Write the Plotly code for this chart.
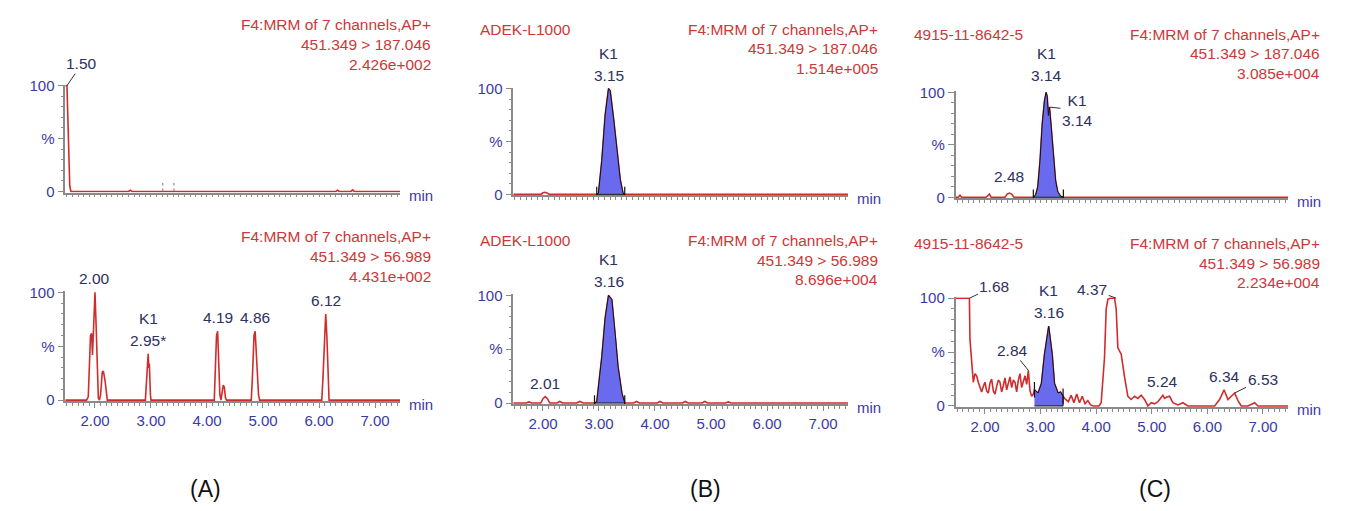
import numpy as np
import plotly.graph_objects as go

W, H = 1345, 511

# ---------------- data ----------------
x_ticks = [1.5, 2.0, 2.5, 3.0, 3.5, 4.0, 4.5, 5.0, 5.5, 6.0, 6.5, 7.0]
x_tick_labels = ["", "2.00", "", "3.00", "", "4.00", "", "5.00", "", "6.00", "", "7.00"]
y_ticks = [0, 50, 100]
y_tick_labels = ["0", "%", "100"]

channel_name = "F4:MRM of 7 channels,AP+"
transitions = ["451.349 > 187.046", "451.349 > 56.989"]
sample_names = ["", "ADEK-L1000", "4915-11-8642-5"]
max_intensity = [["2.426e+002", "4.431e+002"],
                 ["1.514e+005", "8.696e+004"],
                 ["3.085e+004", "2.234e+004"]]
panel_letters = ["(A)", "(B)", "(C)"]

# (A) blank, 451.349 > 187.046
a1_t = [1.47, 1.50, 1.51, 1.53, 1.55, 1.57, 2.60, 2.63, 2.66, 6.30, 6.33, 6.36, 6.57, 6.60, 6.63, 7.45]
a1_i = [100, 100, 80, 30, 5, 0, 0, 1.2, 0, 0, 1.2, 0, 0, 1.5, 0, 0]
a1_marks = [3.21, 3.41]
a1_labels = [("1.50", 1.50, 100)]

# (A) blank, 451.349 > 56.989
a2_t = [1.47, 1.85, 1.88, 1.90, 1.92, 1.94, 1.955, 1.97, 2.00, 2.02,
        2.04, 2.06, 2.08, 2.10, 2.13, 2.15, 2.18, 2.20, 2.22, 2.90,
        2.92, 2.94, 2.95, 2.96, 2.97, 2.99, 3.00, 4.13, 4.15, 4.17,
        4.19, 4.21, 4.23, 4.25, 4.27, 4.29, 4.31, 4.33, 4.35, 4.79,
        4.81, 4.84, 4.86, 4.88, 4.90, 4.92, 4.94, 6.05, 6.07, 6.10,
        6.12, 6.14, 6.16, 6.18, 7.45]
a2_i = [0, 0, 3, 38, 60, 62, 42, 60, 100, 70,
        20, 2, 0, 5, 26, 27, 18, 5, 0, 0,
        20, 40, 43, 30, 34, 5, 0, 0, 30, 60,
        64, 40, 5, 0, 8, 14, 12, 2, 0, 0,
        20, 60, 64, 45, 30, 5, 0, 0, 20, 60,
        80, 60, 20, 0, 0]
a2_labels = [("2.00", 2.00, 100), ("K1<br>2.95*", 2.95, 43), ("4.19", 4.19, 64),
             ("4.86", 4.86, 64), ("6.12", 6.12, 80)]

# (B) standard, 451.349 > 187.046
b1_t = [1.47, 1.96, 2.00, 2.04, 2.08, 2.12, 2.96, 2.99, 3.05, 3.11, 3.17, 3.20, 3.26, 3.32, 3.38, 3.43, 3.46, 7.45]
b1_i = [0, 0, 1.5, 2, 1, 0, 0, 1, 32, 75, 100, 98, 72, 42, 14, 1, 0, 0]
b1_window = [2.96, 3.46]
b1_labels = [("K1<br>3.15", 3.17, 100)]

# (B) standard, 451.349 > 56.989
b2_t = [1.47, 1.70, 1.75, 1.80, 1.96, 2.00, 2.04, 2.08, 2.12, 2.25,
        2.30, 2.35, 2.60, 2.66, 2.72, 2.92, 2.96, 3.05, 3.11, 3.17,
        3.23, 3.29, 3.34, 3.41, 3.46, 3.62, 3.67, 3.72, 4.04, 4.09,
        4.14, 4.49, 4.54, 4.59, 4.84, 4.89, 4.94, 5.26, 5.31, 5.36, 7.45]
b2_i = [0, 0, 1, 0, 0, 4, 6, 4, 0, 0,
        1.5, 0, 0, 1.5, 0, 0, 1, 43, 79, 100,
        96, 64, 34, 9, 0, 0, 1.5, 0, 0, 1.5,
        0, 0, 1.5, 0, 0, 1.5, 0, 0, 1, 0, 0]
b2_window = [2.92, 3.46]
b2_labels = [("2.01", 2.04, 6), ("K1<br>3.16", 3.17, 100)]

# (C) sample, 451.349 > 187.046
c1_t = [1.47, 1.52, 1.55, 1.58, 2.02, 2.05, 2.08, 2.11, 2.36, 2.40,
        2.44, 2.48, 2.52, 2.87, 2.91, 2.95, 2.99, 3.03, 3.07, 3.10,
        3.12, 3.14, 3.16, 3.19, 3.23, 3.27, 3.31, 3.36, 3.41, 7.45]
c1_i = [0, 0, 2, 0, 0, 2, 3, 0, 0, 3,
        4, 3, 0, 0, 2, 10, 35, 70, 92, 100,
        96, 78, 86, 68, 38, 16, 5, 1, 0, 0]
c1_window = [2.87, 3.41]
c1_labels = [("2.48", 2.44, 4), ("K1<br>3.14", 3.10, 100), ("K1<br>3.14", 3.16, 86)]

# (C) sample, 451.349 > 56.989
c2_t = [1.47, 1.72, 1.73, 1.76, 1.79, 1.82, 1.85, 1.88, 1.91, 1.94,
        1.97, 2.00, 2.03, 2.06, 2.09, 2.12, 2.15, 2.18, 2.21, 2.24,
        2.27, 2.30, 2.33, 2.36, 2.39, 2.42, 2.45, 2.48, 2.51, 2.54,
        2.57, 2.60, 2.63, 2.66, 2.69, 2.72, 2.75, 2.78, 2.81, 2.84,
        2.87, 2.89, 2.955, 3.015, 3.07, 3.146, 3.21, 3.25, 3.315, 3.36,
        3.405, 3.45, 3.50, 3.55, 3.60, 3.65, 3.70, 3.75, 3.80, 3.85,
        3.90, 3.95, 4.05, 4.09, 4.15, 4.18, 4.21, 4.25, 4.33, 4.36,
        4.39, 4.45, 4.51, 4.57, 4.63, 4.69, 4.75, 4.81, 4.87, 4.93,
        4.99, 5.05, 5.11, 5.20, 5.23, 5.26, 5.32, 5.38, 5.47, 5.56,
        5.65, 6.13, 6.22, 6.30, 6.37, 6.43, 6.49, 6.55, 6.61, 6.73,
        6.85, 6.91, 7.45]
c2_i = [100, 100, 62, 40, 22, 30, 28, 22, 17, 13,
        18, 22, 14, 12, 21, 25, 14, 11, 18, 24,
        22, 13, 19, 26, 15, 21, 27, 17, 24, 22,
        13, 24, 30, 17, 24, 28, 20, 33, 14, 9,
        11, 15, 12, 21, 48, 74, 48, 21, 12, 13,
        9, 6, 4, 10, 3, 11, 3, 9, 2, 5,
        1, 0, 0, 3, 45, 90, 99, 100, 100, 90,
        54, 48, 27, 9, 6, 9, 7, 10, 6, 0,
        3, 2, 4, 10, 7, 8, 9, 3, 1, 3,
        0, 0, 6, 15, 6, 9, 12, 5, 0, 0,
        3, 0, 0]
c2_window = [2.89, 3.405]
c2_labels = [("1.68", 1.72, 100), ("2.84", 2.78, 33), ("K1<br>3.16", 3.146, 74),
             ("4.37", 4.36, 100), ("5.24", 5.20, 10), ("6.34", 6.30, 15), ("6.53", 6.49, 12)]

# ---------------- style / geometry ----------------
FONT = "Liberation Sans, Arial, sans-serif"
RED = "#d02c2c"
HEAD_RED = "#cc3838"
BLUE_FILL = "#6a6aee"
AXIS_GREY = "#8a8a8a"
TICK_BLUE = "#3a3aa6"
LABEL_NAVY = "#2d3060"
FS_HEAD = 15.5
FS_TICK = 15
FS_LABEL = 15.5

X_RANGE = [1.47, 7.45]
X_DOM = [(65.3, 400.2), (513.3, 848.2), (955.5, 1288.0)]
Y_DOM = [[(80, 189), (293, 404)], [(83, 192), (296, 407)], [(87, 195), (299, 410)]]
HEAD_RIGHT = [433, 880, 1322]
HEAD_ROWS = [[[17, 38, 58], [235, 256, 277]],
             [[22, 42, 62], [240, 260, 280]],
             [[27, 47, 67], [243, 263, 283]]]
SAMPLE_LEFT = [None, 478, 912]
LETTER_X = [205, 705, 1155]
LETTER_Y = 496
LINE_STEP = 22

# arrow offsets (pixels) for labels with leader lines: (panel, label index) -> (ax, ay)
LEADERS = {("a1", 0): (15, -22), ("c1", 2): (28, 3),
           ("c2", 0): (25, -12), ("c2", 1): (-16, -20), ("c2", 3): (-24, -9), ("c2", 6): (28, -14)}
LABEL_SHIFT = {"c1": 6}

panels = [
    dict(name="a1", col=0, row=0, t=a1_t, i=a1_i, win=None, labels=a1_labels),
    dict(name="a2", col=0, row=1, t=a2_t, i=a2_i, win=None, labels=a2_labels),
    dict(name="b1", col=1, row=0, t=b1_t, i=b1_i, win=b1_window, labels=b1_labels),
    dict(name="b2", col=1, row=1, t=b2_t, i=b2_i, win=b2_window, labels=b2_labels),
    dict(name="c1", col=2, row=0, t=c1_t, i=c1_i, win=c1_window, labels=c1_labels),
    dict(name="c2", col=2, row=1, t=c2_t, i=c2_i, win=c2_window, labels=c2_labels),
]

fig = go.Figure()
layout = {}
annotations = []

minor_x = [round(v, 2) for v in np.arange(1.5, 7.46, 0.1)]
minor_y = [10, 20, 30, 40, 60, 70, 80, 90]

for k, p in enumerate(panels, start=1):
    sfx = "" if k == 1 else str(k)
    xr, yr = "x" + sfx, "y" + sfx
    col, row = p["col"], p["row"]
    x0, x1 = X_DOM[col]
    yt, yb = Y_DOM[col][row]
    ppu = (yb - yt) / 100.0
    layout["xaxis" + sfx] = dict(
        domain=[x0 / W, x1 / W], range=X_RANGE, anchor=yr,
        showline=True, linecolor=AXIS_GREY, linewidth=1.5,
        showgrid=False, zeroline=False,
        tickmode="array", tickvals=x_ticks,
        ticktext=x_tick_labels if row == 1 else [""] * len(x_ticks),
        ticks="outside", ticklen=5, tickwidth=1, tickcolor=AXIS_GREY,
        minor=dict(tickmode="array", tickvals=minor_x, ticks="outside", ticklen=3,
                   tickwidth=1, tickcolor=AXIS_GREY),
        tickfont=dict(family=FONT, size=FS_TICK, color=TICK_BLUE),
        fixedrange=True,
    )
    layout["yaxis" + sfx] = dict(
        domain=[1 - (yb + ppu) / H, 1 - (yt - ppu) / H], range=[-1, 101], anchor=xr,
        showline=True, linecolor=AXIS_GREY, linewidth=1.5,
        showgrid=False, zeroline=False,
        tickmode="array", tickvals=y_ticks, ticktext=y_tick_labels,
        ticks="outside", ticklen=6, tickwidth=1, tickcolor=AXIS_GREY,
        minor=dict(tickmode="array", tickvals=minor_y, ticks="outside", ticklen=3,
                   tickwidth=1, tickcolor=AXIS_GREY),
        tickfont=dict(family=FONT, size=FS_TICK, color=TICK_BLUE),
        fixedrange=True,
    )

    # chromatogram
    fig.add_trace(go.Scatter(x=p["t"], y=p["i"], mode="lines", xaxis=xr, yaxis=yr,
                             line=dict(color=RED, width=1.6), hoverinfo="skip", showlegend=False))

    # integrated K1 peak
    if p["win"] is not None:
        w0, w1 = p["win"]
        sx = [tt for tt in p["t"] if w0 <= tt <= w1]
        sy = [ii for tt, ii in zip(p["t"], p["i"]) if w0 <= tt <= w1]
        fig.add_trace(go.Scatter(x=sx + [w1, w0], y=sy + [0, 0], mode="lines", fill="toself",
                                 fillcolor=BLUE_FILL, line=dict(color="#111111", width=1),
                                 xaxis=xr, yaxis=yr, hoverinfo="skip", showlegend=False))
        my = [p["i"][p["t"].index(w0)], p["i"][p["t"].index(w1)]]
        fig.add_trace(go.Scatter(x=[w0, w1], y=my, mode="markers", xaxis=xr, yaxis=yr,
                                 marker=dict(symbol="line-ns", size=11,
                                             line=dict(color="#111111", width=1.2)),
                                 hoverinfo="skip", showlegend=False))

    # peak labels
    for j, (txt, lx, ly) in enumerate(p["labels"]):
        key = (p["name"], j)
        if key in LEADERS:
            ax, ay = LEADERS[key]
            annotations.append(dict(x=lx, y=ly, xref=xr, yref=yr, text=txt, showarrow=True,
                                    arrowhead=0, arrowwidth=1, arrowcolor="#333333",
                                    ax=ax, ay=ay, standoff=0,
                                    font=dict(family=FONT, size=FS_LABEL, color=LABEL_NAVY)))
        else:
            lines = txt.split("<br>")
            base = LABEL_SHIFT.get(p["name"], 3)
            for n, ln in enumerate(reversed(lines)):
                annotations.append(dict(x=lx, y=ly, xref=xr, yref=yr, text=ln, showarrow=False,
                                        xanchor="center", yanchor="bottom",
                                        yshift=base + n * LINE_STEP,
                                        font=dict(family=FONT, size=FS_LABEL, color=LABEL_NAVY)))

    # "min" axis title
    annotations.append(dict(x=x1 / W, y=0, xref="paper", yref=yr, text="min", showarrow=False,
                            xanchor="left", yanchor="middle", xshift=7, yshift=-4,
                            font=dict(family=FONT, size=FS_TICK, color=TICK_BLUE)))

    # header text
    head = [channel_name, transitions[row], max_intensity[col][row]]
    for txt, py in zip(head, HEAD_ROWS[col][row]):
        annotations.append(dict(x=HEAD_RIGHT[col] / W, y=1 - py / H, xref="paper", yref="paper",
                                text=txt, showarrow=False, xanchor="right", yanchor="middle",
                                font=dict(family=FONT, size=FS_HEAD, color=HEAD_RED)))
    if SAMPLE_LEFT[col] is not None:
        annotations.append(dict(x=SAMPLE_LEFT[col] / W, y=1 - HEAD_ROWS[col][row][0] / H,
                                xref="paper", yref="paper", text=sample_names[col], showarrow=False,
                                xanchor="left", yanchor="middle",
                                font=dict(family=FONT, size=FS_HEAD, color=HEAD_RED)))

# small dotted markers in blank 187 trace
mx, my = [], []
for m in a1_marks:
    mx += [m, m, None]
    my += [0, 8, None]
fig.add_trace(go.Scatter(x=mx, y=my, mode="lines", xaxis="x", yaxis="y",
                         line=dict(color="#777777", width=1, dash="dot"),
                         hoverinfo="skip", showlegend=False))

for lx, lt in zip(LETTER_X, panel_letters):
    annotations.append(dict(x=lx / W, y=1 - LETTER_Y / H, xref="paper", yref="paper", text=lt,
                            showarrow=False, xanchor="center", yanchor="middle",
                            font=dict(family=FONT, size=23, color="#111111")))

fig.update_layout(width=W, height=H, margin=dict(l=0, r=0, t=0, b=0),
                  paper_bgcolor="white", plot_bgcolor="white",
                  showlegend=False, annotations=annotations, **layout)

fig.write_html("out.html", config={"displayModeBar": False},
               post_script="document.body.style.margin='0px';document.body.style.overflow='hidden';")
